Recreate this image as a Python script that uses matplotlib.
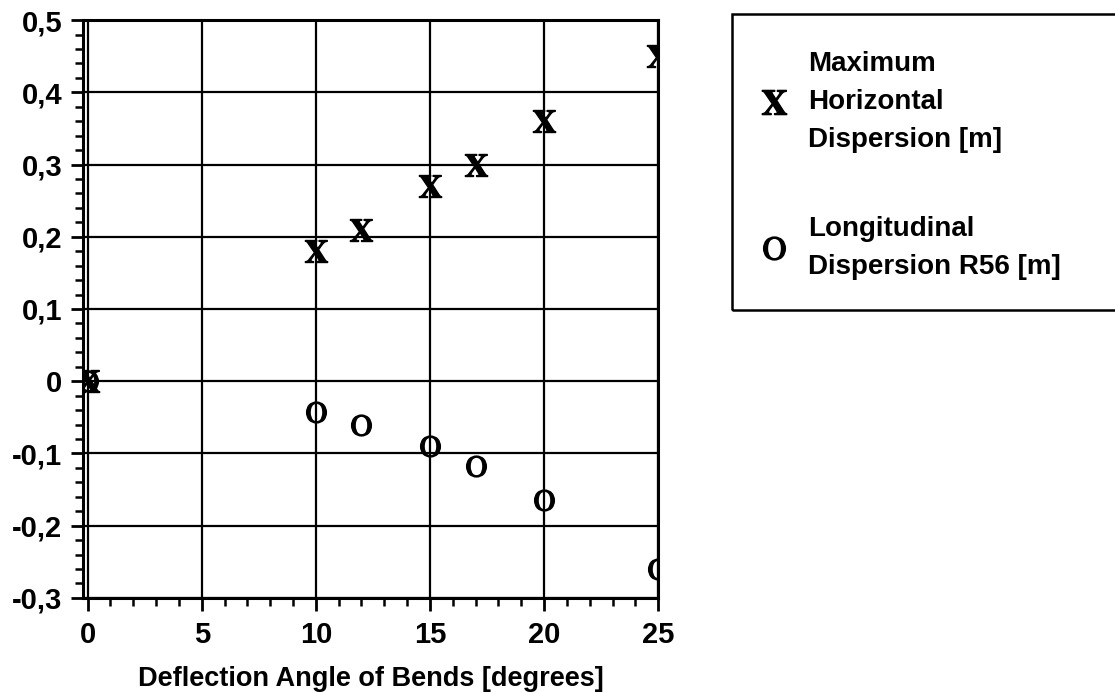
import matplotlib
matplotlib.use('Agg')
import matplotlib.pyplot as plt
from matplotlib.patches import Rectangle
from matplotlib.ticker import MultipleLocator, FuncFormatter

# angle of bends [degrees]
angle = [0, 10, 12, 15, 17, 20, 25]
# maximum horizontal dispersion [m]
hor_disp = [0.0, 0.18, 0.21, 0.27, 0.30, 0.36, 0.45]
# longitudinal dispersion R56 [m]
r56 = [0.0, -0.042, -0.06, -0.09, -0.118, -0.164, -0.26]

x_ticks = [0, 5, 10, 15, 20, 25]
y_ticks = [-0.3, -0.2, -0.1, 0, 0.1, 0.2, 0.3, 0.4, 0.5]

plt.rcParams['font.family'] = ['Liberation Sans', 'DejaVu Sans']
plt.rcParams['mathtext.fontset'] = 'stix'

fig = plt.figure(figsize=(11.15, 6.92), dpi=100)
ax = fig.add_axes([0.0744, 0.136, 0.516, 0.835])

ax.plot(angle, hor_disp, linestyle='none', marker=r'$\mathbf{X}$', markersize=16,
        color='black', label='Maximum\nHorizontal\nDispersion [m]')
ax.plot(angle, r56, linestyle='none', marker=r'$\mathrm{O}$', markersize=15,
        color='black', label='Longitudinal\nDispersion R56 [m]')

ax.set_xlim(-0.2, 25)
ax.set_ylim(-0.3, 0.5)
ax.set_xticks(x_ticks)
ax.set_yticks(y_ticks)
ax.xaxis.set_minor_locator(MultipleLocator(1))
ax.yaxis.set_minor_locator(MultipleLocator(0.02))


def comma(v, pos):
    if abs(v) < 1e-9:
        return '0'
    return ('%.1f' % v).replace('.', ',')


ax.yaxis.set_major_formatter(FuncFormatter(comma))
ax.grid(True, which='major', color='black', linewidth=1.6)
for s in ax.spines.values():
    s.set_linewidth(2.2)
ax.tick_params(which='major', direction='out', length=9, width=2, labelsize=21)
ax.tick_params(axis='x', which='major', pad=8)
ax.tick_params(axis='y', which='major', pad=6)
ax.tick_params(which='minor', direction='out', length=6, width=1.8)
for lab in ax.get_xticklabels() + ax.get_yticklabels():
    lab.set_fontweight('bold')

ax.set_xlabel('Deflection Angle of Bends [degrees]', fontsize=19.5,
              fontweight='bold', labelpad=12)

# legend box outside the axes
fig.patches.append(Rectangle((732 / 1115, 1 - 310 / 692), 400 / 1115, 296 / 692,
                             transform=fig.transFigure, fill=False,
                             edgecolor='black', linewidth=1.8))
leg = fig.legend(loc='upper left', bbox_to_anchor=(748 / 1115, 1 - 40 / 692),
                 frameon=False, labelspacing=2.25, borderaxespad=0,
                 handletextpad=0.65, handlelength=1.1, markerscale=1.1,
                 prop={'weight': 'bold', 'size': 20})
for t in leg.get_texts():
    t.set_linespacing(1.6)

fig.savefig('out.png', dpi=100)
